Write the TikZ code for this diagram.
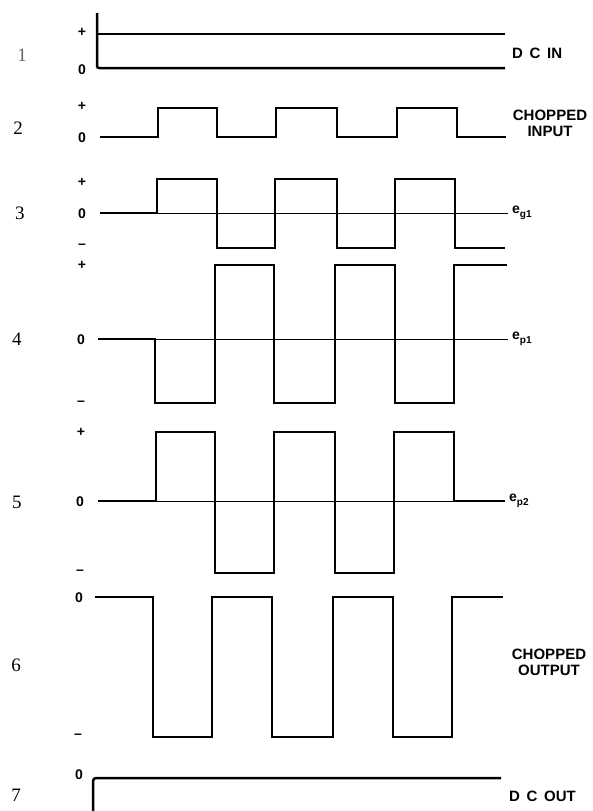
\documentclass[tikz,border=0pt]{standalone}
\usepackage{fontspec}
\setmainfont{Liberation Serif}
\newfontfamily\lblfont{Liberation Sans}
\usetikzlibrary{positioning}

\begin{document}
\begin{tikzpicture}[
    x=1pt, y=-1pt,
    wave/.style={line width=2.5pt, line join=miter},
    zero/.style={line width=0.9pt},
    rownum/.style={font=\fontsize{19}{19}\selectfont, inner sep=0pt},
    level/.style={font=\lblfont\bfseries\fontsize{14}{14}\selectfont, inner sep=0pt},
    tag/.style={font=\lblfont\bfseries\fontsize{15}{16}\selectfont, align=center, inner sep=0pt},
    sub/.style={font=\lblfont\bfseries\fontsize{14}{14}\selectfont, inner sep=0pt, node distance=4pt}
]
\useasboundingbox (0,0) rectangle (593,811);

% Row 1 - d.c. input
\node[rownum, text=black!60] (n1) at (22,55) {1};
\node[level] (p1) at (82,32) {+};
\node[level] (z1) at (82,70) {0};
\draw[wave] (97,34) -- (505,34);
\draw[wave, rounded corners=2pt] (97,13) |- (505,68);
\node[tag, anchor=west] (dcin) at (512,53) {D\, C\, IN};

% Row 2 - chopped input
\node[rownum] (n2) at (18,128) {2};
\node[level] (p2) at (82,106) {+};
\node[level] (z2) at (82,138) {0};
\draw[wave] (100,137) -- (158,137) |- (217,108) |- (276,137) |- (337,108)
    |- (397,137) |- (457,108) |- (506,137);
\node[tag] (cin) at (550,123) {CHOPPED\\INPUT};

% Row 3 - grid voltage
\node[rownum] (n3) at (20,213) {3};
\node[level] (p3) at (82,182) {+};
\node[level] (z3) at (82,214) {0};
\node[level] (m3) at (82,246) {–};
\coordinate (g1end) at (508,213);
\draw[zero] (100,213) -- (g1end);
\draw[wave] (100,213) -- (157,213) |- (217,179) |- (275,248) |- (337,179)
    |- (395,248) |- (455,179) |- (505,248);
\node[sub, right=of g1end] (eg1) {e\raisebox{-4pt}{\fontsize{10}{10}\selectfont g1}};

% Row 4 - plate voltage 1
\node[rownum] (n4) at (17,339) {4};
\node[level] (p4) at (82,265) {+};
\node[level] (z4) at (81,340) {0};
\node[level] (m4) at (81,403) {–};
\coordinate (p1end) at (508,339);
\draw[zero] (98,339) -- (p1end);
\draw[wave] (98,339) -- (155,339) |- (215,403) |- (274,265) |- (335,403)
    |- (395,265) |- (454,403) |- (507,265);
\node[sub, right=of p1end] (ep1) {e\raisebox{-4pt}{\fontsize{10}{10}\selectfont p1}};

% Row 5 - plate voltage 2
\node[rownum] (n5) at (17,502) {5};
\node[level] (p5) at (81,432) {+};
\node[level] (z5) at (80,502) {0};
\node[level] (m5) at (80,572) {–};
\coordinate (p2end) at (505,501);
\draw[zero] (98,501) -- (p2end);
\draw[wave] (98,501) -- (156,501) |- (215,432) |- (274,573) |- (335,432)
    |- (394,573) |- (454,432) |- (p2end);
\node[sub, right=of p2end] (ep2) {e\raisebox{-4pt}{\fontsize{10}{10}\selectfont p2}};

% Row 6 - chopped output
\node[rownum] (n6) at (16,665) {6};
\node[level] (z6) at (79,598) {0};
\node[level] (m6) at (78,736) {–};
\draw[wave] (95,597) -- (153,597) |- (212,737) |- (272,597) |- (333,737)
    |- (393,597) |- (452,737) |- (503,597);
\node[tag] (cout) at (549,662) {CHOPPED\\OUTPUT};

% Row 7 - d.c. output
\node[rownum] (n7) at (16,795) {7};
\node[level] (z7) at (79,775) {0};
\draw[wave, rounded corners=3pt] (93,811) |- (501,778);
\node[tag, anchor=west] (dcout) at (509,796) {D\, C\, OUT};

\end{tikzpicture}
\end{document}
